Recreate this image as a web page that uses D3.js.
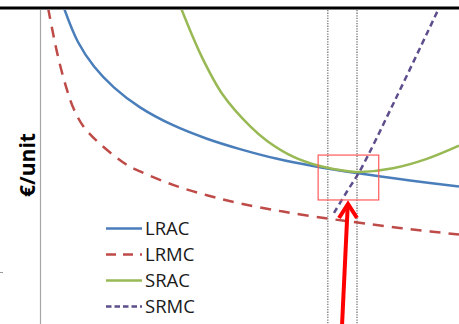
<!DOCTYPE html>
<html>
<head>
<meta charset="utf-8">
<script src="https://cdn.jsdelivr.net/npm/d3@7"></script>
<style>
  html, body { margin: 0; padding: 0; background: #fff; }
  svg { display: block; }
</style>
</head>
<body>
<svg id="chart" width="459" height="324"></svg>
<script>
// ---- data (output quantity q, cost per unit v) ----
const lracQ = [5.5, 8.85, 12.7, 17.5, 23.7, 31.6, 39.7, 47.6, 56.5, 65.1, 76.3, 88.3, 100];
const lracV = [100.6, 89.8, 82.0, 75.3, 69.0, 63.3, 59.0, 55.7, 52.6, 50.3, 47.9, 45.7, 43.8];

const lrmcQ = [1.7, 2.9, 4.1, 6.0, 7.9, 10.8, 19.6, 23.7, 31.6, 39.7, 47.6, 57.9, 69.1, 77.5, 88.3, 100];
const lrmcV = [100.6, 92.4, 85.0, 75.5, 68.3, 61.8, 51.5, 48.6, 44.3, 41.0, 38.4, 35.8, 33.5, 32.0, 30.2, 28.5];

const sracQ = [33.5, 38.5, 43.5, 50.0, 54.1, 60.3, 66.7, 73.9, 76.3, 84.2, 92.3, 100];
const sracV = [100.6, 85.0, 73.0, 63.0, 58.3, 53.3, 50.3, 48.6, 48.4, 49.6, 52.6, 56.8];

const srmcQ = [70.1, 73.2, 76.3, 84.7, 95.2];
const srmcV = [35.4, 42.2, 48.8, 71.3, 100.6];

const seriesNames = ["LRAC", "LRMC", "SRAC", "SRMC"];
const yLabel = "€/unit";
// highlighted quantity range (vertical guides) and highlight box
const guideQ = [68.6, 75.6];
const boxQ = [66.3, 80.8];
const boxV = [39.5, 53.8];

// ---- layout / style ----
const W = 459, H = 324;
const m = { left: 41, right: 0, top: 10, bottom: 0 };
const x = d3.scaleLinear().domain([0, 100]).range([m.left, W - m.right]);
const y = d3.scaleLinear().domain([0, 100]).range([H - m.bottom, m.top]);

const styles = {
  LRAC: { color: "#4a7ebb", dash: null, width: 2.5 },
  LRMC: { color: "#be4b48", dash: "11,8", width: 2.5 },
  SRAC: { color: "#98b954", dash: null, width: 2.5 },
  SRMC: { color: "#5e4e8c", dash: "6,4", width: 2.5 }
};
const data = {
  LRAC: lracQ.map((q, i) => [q, lracV[i]]),
  LRMC: lrmcQ.map((q, i) => [q, lrmcV[i]]),
  SRAC: sracQ.map((q, i) => [q, sracV[i]]),
  SRMC: srmcQ.map((q, i) => [q, srmcV[i]])
};

const svg = d3.select("#chart");

svg.append("defs").append("clipPath").attr("id", "plot")
  .append("rect").attr("x", m.left).attr("y", m.top)
  .attr("width", W - m.left - m.right).attr("height", H - m.top - m.bottom);

// left axis
svg.append("line")
  .attr("x1", m.left - 0.5).attr("x2", m.left - 0.5)
  .attr("y1", m.top).attr("y2", H)
  .attr("stroke", "#a6a6a6").attr("stroke-width", 1.2);

// tiny mark at the left edge
svg.append("line")
  .attr("x1", 0).attr("x2", 3).attr("y1", 272.5).attr("y2", 272.5)
  .attr("stroke", "#9a9a9a").attr("stroke-width", 1);

// vertical dotted guides
svg.selectAll(".guide").data(guideQ).enter().append("line")
  .attr("class", "guide")
  .attr("x1", d => x(d)).attr("x2", d => x(d))
  .attr("y1", m.top).attr("y2", H)
  .attr("stroke", "#8c8c8c").attr("stroke-width", 1.6)
  .attr("stroke-dasharray", "1.3,1.3");

// curves
const line = d3.line().x(d => x(d[0])).y(d => y(d[1])).curve(d3.curveCatmullRom.alpha(0.5));
const g = svg.append("g").attr("clip-path", "url(#plot)");
seriesNames.forEach(n => {
  const s = styles[n];
  g.append("path").datum(data[n])
    .attr("d", line)
    .attr("fill", "none")
    .attr("stroke", s.color)
    .attr("stroke-width", s.width)
    .attr("stroke-dasharray", s.dash);
});

// highlight box
svg.append("rect")
  .attr("x", x(boxQ[0])).attr("y", y(boxV[1]))
  .attr("width", x(boxQ[1]) - x(boxQ[0])).attr("height", y(boxV[0]) - y(boxV[1]))
  .attr("fill", "none").attr("stroke", "#ff5a5a").attr("stroke-width", 1.2);

// red arrow pointing to the box
const tipX = 348, tipY = 202;
svg.append("line")
  .attr("x1", 342).attr("y1", H + 2).attr("x2", tipX - 0.3).attr("y2", tipY + 4)
  .attr("stroke", "#ff0000").attr("stroke-width", 4);
svg.append("polyline")
  .attr("points", `${tipX - 9},${tipY + 16} ${tipX},${tipY + 2} ${tipX + 9},${tipY + 16}`)
  .attr("fill", "none").attr("stroke", "#ff0000").attr("stroke-width", 4)
  .attr("stroke-linejoin", "miter");

// top border
svg.append("line")
  .attr("x1", 0).attr("x2", W).attr("y1", 8).attr("y2", 8)
  .attr("stroke", "#000").attr("stroke-width", 3);

// y label
svg.append("text")
  .attr("transform", "translate(35,165) rotate(-90)")
  .attr("text-anchor", "middle")
  .attr("font-family", "Open Sans, sans-serif")
  .attr("font-weight", "bold")
  .attr("font-size", 21)
  .attr("fill", "#000")
  .text(yLabel);

// legend
const legend = svg.append("g");
seriesNames.forEach((n, i) => {
  const s = styles[n];
  const cy = 228.5 + i * 26;
  legend.append("line")
    .attr("x1", 106).attr("x2", 142).attr("y1", cy).attr("y2", cy)
    .attr("stroke", s.color).attr("stroke-width", 2.5)
    .attr("stroke-dasharray", n === "LRMC" ? "10,7" : n === "SRMC" ? "5.5,3" : null);
  legend.append("text")
    .attr("x", 145).attr("y", cy)
    .attr("dy", "0.35em")
    .attr("font-family", "Open Sans, sans-serif")
    .attr("font-size", 18.5)
    .attr("fill", "#1a1a1a")
    .text(n);
});
</script>
</body>
</html>
